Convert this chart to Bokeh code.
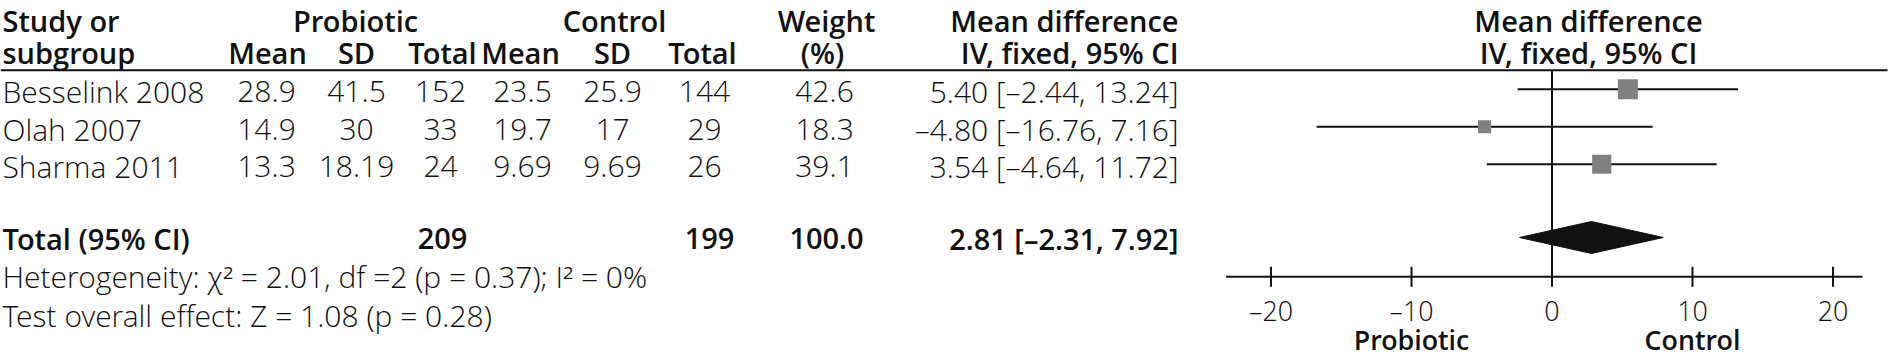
from bokeh.plotting import figure
from bokeh.models import Range1d, ColumnDataSource
from bokeh.core.properties import value
from bokeh.embed import file_html
from bokeh.resources import INLINE

# ---------------- data ----------------
studies = ["Besselink 2008", "Olah 2007", "Sharma 2011"]
pro_mean = [28.9, 14.9, 13.3]
pro_sd = [41.5, 30, 18.19]
pro_n = [152, 33, 24]
con_mean = [23.5, 19.7, 9.69]
con_sd = [25.9, 17, 9.69]
con_n = [144, 29, 26]
weight = [42.6, 18.3, 39.1]
md = [5.40, -4.80, 3.54]
ci_lo = [-2.44, -16.76, -4.64]
ci_hi = [13.24, 7.16, 11.72]
total_pro_n = 209
total_con_n = 199
total_weight = 100.0
total_md = 2.81
total_lo = -2.31
total_hi = 7.92
heterogeneity = "Heterogeneity: χ² = 2.01, df =2 (p = 0.37); I² = 0%"
overall = "Test overall effect: Z = 1.08 (p = 0.28)"
tick_values = [-20, -10, 0, 10, 20]
tick_labels = ["–20", "–10", "0", "10", "20"]
favours = ["Probiotic", "Control"]
favours_at = [-10, 10]

# ---------------- layout ----------------
W, H = 1888, 360
X0, X1 = 0, 1888
ZERO_X, X_PER_UNIT = 1551.5, 14.05
AXIS_LO, AXIS_HI = -23.2, 22.1
INK = "#111111"
GREY = "#808080"
REG = "Open Sans Light, Open Sans"
BOLD = "Open Sans SemiBold, Open Sans"
HEAD_PX, DATA_PX, TICK_PX = 29.0, 30.0, 26.8

p = figure(width=W, height=H, x_range=Range1d(X0, X1), y_range=Range1d(H, 0),
           output_backend="svg", toolbar_location=None, min_border=0,
           x_axis_type=None, y_axis_type=None)
p.grid.visible = False
p.outline_line_color = None
p.background_fill_color = "white"
p.extra_x_ranges = {"md": Range1d((X0 - ZERO_X) / X_PER_UNIT, (X1 - ZERO_X) / X_PER_UNIT)}


def txt(xs, ys, texts, size, align="center", bold=False, rng="default"):
    src = ColumnDataSource(dict(x=xs, y=ys, t=texts))
    p.text(x="x", y="y", text="t", source=src,
           text_font=value(BOLD if bold else REG),
           text_font_size=f"{size:.1f}px",
           text_font_style="bold" if bold else "normal",
           text_align=align, text_baseline="alphabetic", text_color=INK,
           x_range_name=rng)


def fmt(v):
    return f"{v:.2f}".replace("-", "–")


# headers
HB1, HB2 = 20.0, 52.0
txt([2], [HB1], ["Study or"], HEAD_PX, "left", True)
txt([2], [HB2], ["subgroup"], HEAD_PX, "left", True)
txt([355, 614, 826], [HB1] * 3, ["Probiotic", "Control", "Weight"], HEAD_PX, "center", True)
txt([267, 356, 442, 520, 612, 702, 822], [HB2] * 7,
    ["Mean", "SD", "Total", "Mean", "SD", "Total", "(%)"], HEAD_PX, "center", True)
txt([1178, 1178], [HB1, HB2], ["Mean difference", "IV, fixed, 95% CI"], HEAD_PX, "right", True)
txt([1588, 1588], [HB1, HB2], ["Mean difference", "IV, fixed, 95% CI"], HEAD_PX, "center", True)

# header rule
RULE_Y = 69.8
p.segment(x0=[0], y0=[RULE_Y], x1=[1887], y1=[RULE_Y], line_color=INK, line_width=2)

# study rows
row_y = [88.7, 126.2, 163.7]
base_y = [y + 2.5 for y in row_y]
txt([2] * 3, base_y, studies, DATA_PX, "left")
txt([266] * 3, base_y, [str(v) for v in pro_mean], DATA_PX)
txt([356] * 3, base_y, [str(v) for v in pro_sd], DATA_PX)
txt([440] * 3, base_y, [str(v) for v in pro_n], DATA_PX)
txt([522] * 3, base_y, [str(v) for v in con_mean], DATA_PX)
txt([612] * 3, base_y, [str(v) for v in con_sd], DATA_PX)
txt([704] * 3, base_y, [str(v) for v in con_n], DATA_PX)
txt([824] * 3, base_y, [f"{w:.1f}" for w in weight], DATA_PX)
txt([1178] * 3, base_y,
    [f"{fmt(m)} [{fmt(l)}, {fmt(h)}]" for m, l, h in zip(md, ci_lo, ci_hi)], DATA_PX, "right")

# total row
TB = 237.5
TC = 237.0
txt([2], [TB], ["Total (95% CI)"], HEAD_PX, "left", True)
txt([442, 709, 826], [TB] * 3, [str(total_pro_n), str(total_con_n), f"{total_weight:.1f}"],
    HEAD_PX, "center", True)
txt([1178], [TB], [f"{fmt(total_md)} [{fmt(total_lo)}, {fmt(total_hi)}]"], HEAD_PX, "right", True)

# heterogeneity / overall effect
txt([2], [275.5], [heterogeneity], DATA_PX, "left")
txt([2], [315.0], [overall], DATA_PX, "left")

# ---------------- forest plot ----------------
AXIS_Y = 276.3
# null line
p.segment(x0=[0], y0=[RULE_Y], x1=[0], y1=[AXIS_Y], x_range_name="md", line_color=INK, line_width=2)
# whiskers
p.segment(x0=ci_lo, y0=row_y, x1=ci_hi, y1=row_y, x_range_name="md", line_color=INK, line_width=2)
# squares sized by weight
sq = [3.06 * (w ** 0.5) for w in weight]
p.scatter(x=md, y=row_y, size=sq, marker="square", x_range_name="md",
          fill_color=GREY, line_color=None)
# pooled diamond
DH = 16.0
p.patch(x=[total_lo, total_md, total_hi, total_md], y=[TC, TC - DH, TC, TC + DH],
        x_range_name="md", fill_color=INK, line_color=INK, line_width=1)

# axis
p.segment(x0=[AXIS_LO], y0=[AXIS_Y], x1=[AXIS_HI], y1=[AXIS_Y], x_range_name="md",
          line_color=INK, line_width=2)
p.segment(x0=tick_values, y0=[AXIS_Y - 10] * len(tick_values), x1=tick_values,
          y1=[AXIS_Y + 10] * len(tick_values), x_range_name="md", line_color=INK, line_width=2)
txt(tick_values, [310.0] * len(tick_values), tick_labels, TICK_PX, "center", False, "md")
txt(favours_at, [339.0] * 2, favours, TICK_PX, "center", True, "md")

open("out.html", "w").write(file_html(p, INLINE))
